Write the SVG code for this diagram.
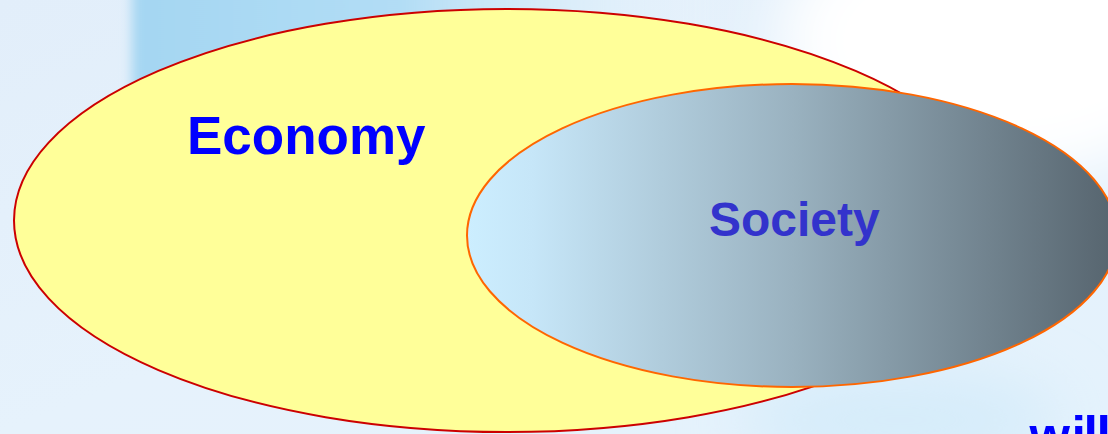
<svg xmlns="http://www.w3.org/2000/svg" width="1108" height="434" viewBox="0 0 1108 434">
<defs>
<linearGradient id="bg" x1="0" y1="0" x2="1" y2="1">
<stop offset="0" stop-color="#e2eefa"/>
<stop offset="0.5" stop-color="#e6f2fc"/>
<stop offset="1" stop-color="#e4f2fc"/>
</linearGradient>
<linearGradient id="blueBand" x1="0" y1="0" x2="1" y2="0">
<stop offset="0" stop-color="#a4d6f2"/>
<stop offset="0.45" stop-color="#b2ddf5"/>
<stop offset="1" stop-color="#eef6fc" stop-opacity="0"/>
</linearGradient>
<linearGradient id="soc" x1="467" y1="0" x2="1117" y2="0" gradientUnits="userSpaceOnUse">
<stop offset="0" stop-color="#cceeff"/>
<stop offset="0.1" stop-color="#c6e6f8"/>
<stop offset="0.5" stop-color="#9ab2c0"/>
<stop offset="1" stop-color="#56646e"/>
</linearGradient>
<filter id="blur" x="-50%" y="-50%" width="200%" height="200%"><feGaussianBlur stdDeviation="6"/></filter>
<filter id="blur2" x="-50%" y="-50%" width="200%" height="200%"><feGaussianBlur stdDeviation="30"/></filter>
<style>
.lbl{font-family:"Liberation Sans",Arial,sans-serif;font-weight:bold}
</style>
</defs>
<g id="background">
<rect width="1108" height="434" fill="url(#bg)"/>
<rect x="132" y="-60" width="600" height="230" rx="40" fill="url(#blueBand)" filter="url(#blur)"/>
<ellipse cx="1000" cy="40" rx="220" ry="140" fill="#ffffff" filter="url(#blur2)"/>
<ellipse cx="900" cy="420" rx="160" ry="50" fill="#d6ecfa" filter="url(#blur2)"/>
</g>
<g id="economy">
<ellipse cx="507" cy="220.5" rx="493" ry="211.5" fill="#ffff99" stroke="#cc0000" stroke-width="2"/>
<text class="lbl" x="187" y="154" font-size="53" fill="#0000ff">Economy</text>
</g>
<g id="society">
<ellipse cx="792" cy="235.5" rx="325" ry="151.5" fill="url(#soc)" stroke="#ff6600" stroke-width="2"/>
<text class="lbl" x="709" y="236" font-size="48" fill="#3333cc">Society</text>
</g>
<g id="footer">
<text class="lbl" x="1029.5 1071.5 1083.5 1096.5" y="453" font-size="52" fill="#0000ff">will</text>
</g>
</svg>
